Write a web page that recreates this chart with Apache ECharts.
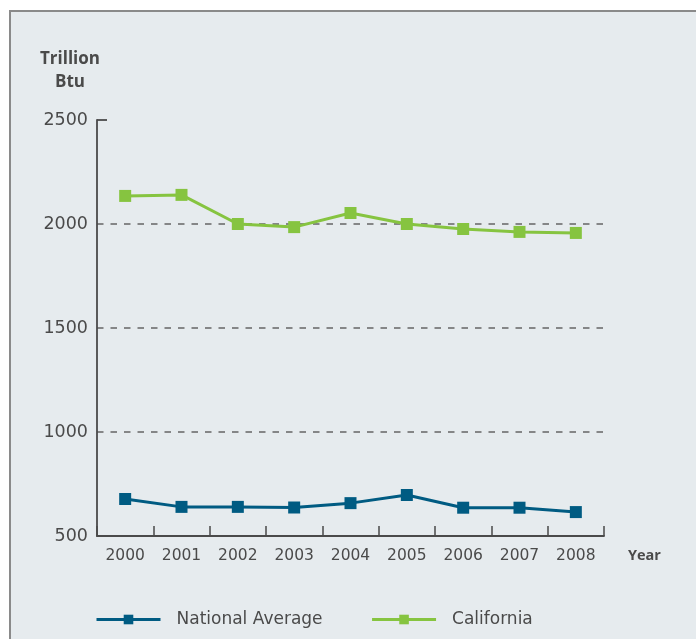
<!DOCTYPE html>
<html><head><meta charset="utf-8">
<script src="https://cdn.jsdelivr.net/npm/echarts@6/dist/echarts.min.js"></script>
<style>html,body{margin:0;padding:0;background:#fff;overflow:hidden}#c{width:696px;height:639px}</style>
</head><body><div id="c"></div>
<script>
const years = ['2000','2001','2002','2003','2004','2005','2006','2007','2008'];
const nationalAverage = [678, 640, 640, 637, 658, 697, 636, 636, 615];
const california = [2135, 2140, 2000, 1985, 2053, 2000, 1976, 1962, 1957];
const yTicks = [500, 1000, 1500, 2000, 2500];

const FONT = 'DejaVu Sans';
const TFONT = 'Open Sans';
const TXT = '#4a4a4a';
const yMin = yTicks[0], yMax = yTicks[yTicks.length - 1];
const chart = echarts.init(document.getElementById('c'));
chart.setOption({
  backgroundColor: '#e6ebee',
  animation: false,
  textStyle: {fontFamily: FONT},
  graphic: [
    {type: 'rect', z: -10, silent: true,
     shape: {x: 0, y: 0, width: 10, height: 639},
     style: {fill: '#ffffff'}},
    {type: 'rect', z: -10, silent: true,
     shape: {x: 0, y: 0, width: 696, height: 11},
     style: {fill: '#ffffff'}},
    {type: 'polyline', z: -9, silent: true,
     shape: {points: [[10, 639], [10, 11], [696, 11]]},
     style: {stroke: '#8a8a8a', lineWidth: 2, fill: null}},
    {type: 'text', x: 70, y: 48,
     style: {text: 'Trillion\nBtu', fill: TXT, font: 'bold 17px ' + TFONT, align: 'center', lineHeight: 23}},
    {type: 'text', x: 628, y: 548,
     style: {text: 'Year', fill: TXT, font: 'bold 14.5px ' + TFONT}}
  ],
  grid: {left: 97, right: 92, top: 120, bottom: 103, containLabel: false},
  legend: {
    bottom: 11, left: 95, padding: 0,
    itemWidth: 64, itemHeight: 12, itemGap: 48,
    lineStyle: {width: 3},
    textStyle: {color: TXT, fontSize: 17, fontFamily: FONT, padding: [0, 0, 0, 11]},
    data: ['National Average', 'California']
  },
  xAxis: {
    type: 'category', data: years, boundaryGap: true,
    axisLine: {show: true, lineStyle: {color: TXT, width: 1.8}},
    axisTick: {show: true, inside: true, length: 10, lineStyle: {color: TXT, width: 1.5}},
    axisLabel: {color: TXT, fontSize: 15.5, margin: 12}
  },
  yAxis: [{
    type: 'value', min: yMin, max: yMax, interval: 500,
    axisLine: {show: true, lineStyle: {color: TXT, width: 1.8}},
    axisTick: {show: false},
    axisLabel: {color: TXT, fontSize: 17.5, margin: 9, formatter: v => String(v)},
    splitLine: {show: true, showMinLine: false, showMaxLine: false,
      lineStyle: {color: '#666', type: [6.5, 7], width: 1.6}}
  }, {
    type: 'value', min: yMin, max: yMax, position: 'left', offset: 0,
    axisLine: {show: false},
    axisLabel: {show: false},
    splitLine: {show: false},
    axisTick: {show: true, inside: true, length: 10, customValues: [yMax], lineStyle: {color: TXT, width: 1.8}}
  }],
  series: [
    {name: 'National Average', type: 'line', data: nationalAverage,
     symbol: 'rect', symbolSize: 12, color: '#005b82',
     lineStyle: {width: 3, color: '#005b82'}, itemStyle: {color: '#005b82'}},
    {name: 'California', type: 'line', data: california,
     symbol: 'rect', symbolSize: 12, color: '#86c440',
     lineStyle: {width: 3, color: '#86c440'}, itemStyle: {color: '#86c440'}}
  ]
});
</script></body></html>
